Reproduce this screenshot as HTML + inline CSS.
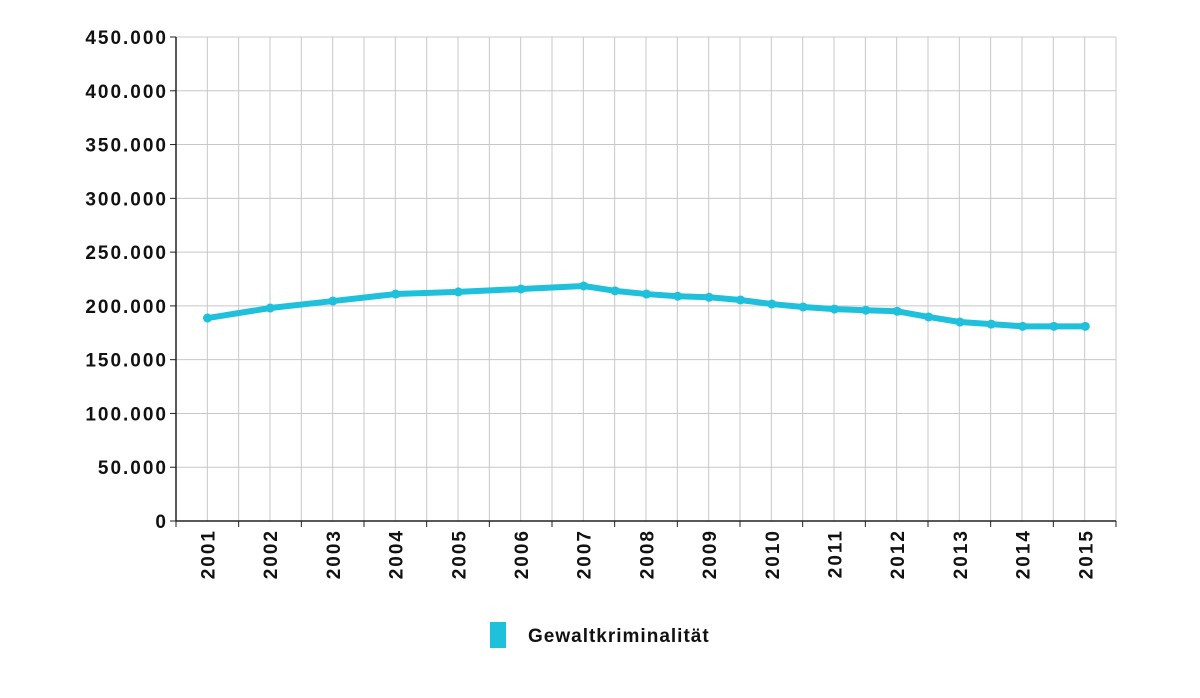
<!DOCTYPE html>
<html><head><meta charset="utf-8"><style>
body{margin:0;background:#fff;font-family:"Liberation Sans",sans-serif}
text{font-family:"Liberation Sans",sans-serif;font-weight:bold;fill:#111}
</style></head><body>
<svg id="c" width="1200" height="693"></svg>
<script>
const years=[2001,2002,2003,2004,2005,2006,2007,2007.5,2008,2008.5,2009,2009.5,2010,2010.5,2011,2011.5,2012,2012.5,2013,2013.5,2014,2014.5,2015];
const values=[188700,198000,204500,211000,213000,215700,218500,214000,211000,209000,208000,205500,201700,199000,197000,196000,195000,189700,185000,183000,181000,181000,181000];
const yTicks=[0,50000,100000,150000,200000,250000,300000,350000,400000,450000];
const yLabels=["0","50.000","100.000","150.000","200.000","250.000","300.000","350.000","400.000","450.000"];
const xLabels=[2001,2002,2003,2004,2005,2006,2007,2008,2009,2010,2011,2012,2013,2014,2015];
const NS="http://www.w3.org/2000/svg",svg=document.getElementById('c');
const L=176,R=1116,T=37,B=521;
const x=v=>207.5+(v-2001)*62.7;
const y=v=>B-(v/450000)*(B-T);
function mk(t,a,p){const e=document.createElementNS(NS,t);for(const k in a)e.setAttribute(k,a[k]);(p||svg).appendChild(e);return e;}
for(let i=0;i<=30;i++){const gx=L+i*(R-L)/30;
const g=mk('line',{x1:gx,x2:gx,y1:T,y2:B,stroke:'#c8c8c8','stroke-width':1});

}
yTicks.forEach((t,i)=>{
const g=mk('line',{x1:L,x2:R,y1:y(t),y2:y(t),stroke:'#c8c8c8','stroke-width':1});


const tk=mk('line',{x1:L-6,x2:L,y1:y(t),y2:y(t),stroke:'#222'});


const tx=mk('text',{x:L-8,y:y(t)+7,'text-anchor':'end','font-size':19,'letter-spacing':'2px'});
tx.textContent=yLabels[i];

});
const ax=mk('line',{x1:L,x2:L,y1:T,y2:B,stroke:'#222','stroke-width':1.5});


const bx=mk('line',{x1:L,x2:R,y1:B,y2:B,stroke:'#222','stroke-width':1.5});


for(let i=0;i<=15;i++){const tx0=L+i*(R-L)/15;
const t=mk('line',{x1:tx0,x2:tx0,y1:B,y2:B+6,stroke:'#222'});

}
xLabels.forEach(v=>{const t=mk('text',{x:0,y:0,'font-size':19,'letter-spacing':'2px','text-anchor':'end',transform:`translate(${x(v)+7},${B+8}) rotate(-90)`});
t.textContent=v;

});
const pl=mk('polyline',{points:years.map((v,i)=>x(v)+','+y(values[i])).join(' '),fill:'none',stroke:'#1fc0dc','stroke-width':6,'stroke-linejoin':'round'});


years.forEach((v,i)=>{const c=mk('circle',{cx:x(v),cy:y(values[i]),r:4.5,fill:'#1fc0dc'});

});
const lr=mk('rect',{x:490,y:622,width:16,height:26,fill:'#1fc0dc'});


const lt=mk('text',{x:528,y:642,'font-size':19,'letter-spacing':'1px'});
lt.textContent='Gewaltkriminalität';


</script>
</body></html>
